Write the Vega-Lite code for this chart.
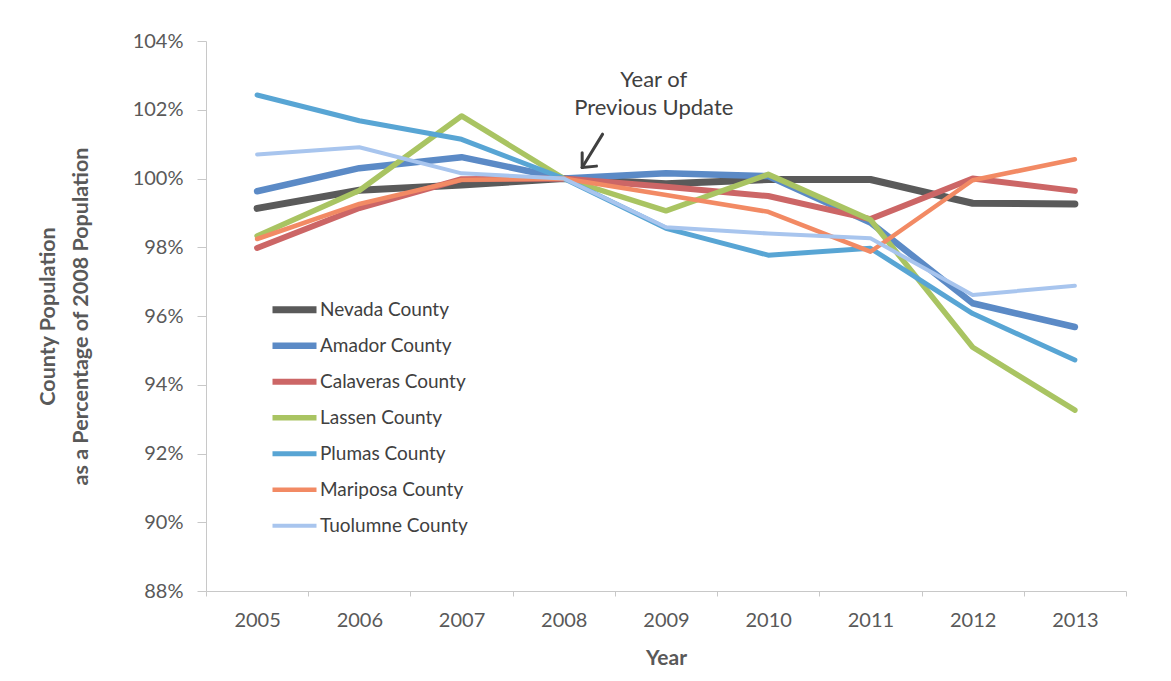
{
  "$schema": "https://vega.github.io/schema/vega-lite/v6.json",
  "autosize": {"type": "none"},
  "padding": {"left": 206, "top": 41, "right": 45, "bottom": 90},
  "width": 920,
  "height": 550,
  "background": "white",
  "config": {
    "view": {"stroke": null},
    "font": "Lato",
    "axis": {
      "labelFont": "Lato",
      "titleFont": "Lato",
      "labelColor": "#595959",
      "titleColor": "#595959",
      "domainColor": "#c8c8c8",
      "tickColor": "#c8c8c8",
      "grid": false
    }
  },
  "datasets": {
    "population": [
      {"county": "Nevada County", "year": "2005", "pct": 99.13},
      {"county": "Nevada County", "year": "2006", "pct": 99.66},
      {"county": "Nevada County", "year": "2007", "pct": 99.81},
      {"county": "Nevada County", "year": "2008", "pct": 100.0},
      {"county": "Nevada County", "year": "2009", "pct": 99.85},
      {"county": "Nevada County", "year": "2010", "pct": 99.97},
      {"county": "Nevada County", "year": "2011", "pct": 99.97},
      {"county": "Nevada County", "year": "2012", "pct": 99.28},
      {"county": "Nevada County", "year": "2013", "pct": 99.26},
      {"county": "Amador County", "year": "2005", "pct": 99.63},
      {"county": "Amador County", "year": "2006", "pct": 100.3},
      {"county": "Amador County", "year": "2007", "pct": 100.62},
      {"county": "Amador County", "year": "2008", "pct": 100.0},
      {"county": "Amador County", "year": "2009", "pct": 100.15},
      {"county": "Amador County", "year": "2010", "pct": 100.07},
      {"county": "Amador County", "year": "2011", "pct": 98.72},
      {"county": "Amador County", "year": "2012", "pct": 96.37},
      {"county": "Amador County", "year": "2013", "pct": 95.68},
      {"county": "Calaveras County", "year": "2005", "pct": 97.98},
      {"county": "Calaveras County", "year": "2006", "pct": 99.14},
      {"county": "Calaveras County", "year": "2007", "pct": 99.98},
      {"county": "Calaveras County", "year": "2008", "pct": 100.0},
      {"county": "Calaveras County", "year": "2009", "pct": 99.76},
      {"county": "Calaveras County", "year": "2010", "pct": 99.49},
      {"county": "Calaveras County", "year": "2011", "pct": 98.82},
      {"county": "Calaveras County", "year": "2012", "pct": 100.0},
      {"county": "Calaveras County", "year": "2013", "pct": 99.64},
      {"county": "Lassen County", "year": "2005", "pct": 98.33},
      {"county": "Lassen County", "year": "2006", "pct": 99.65},
      {"county": "Lassen County", "year": "2007", "pct": 101.82},
      {"county": "Lassen County", "year": "2008", "pct": 100.0},
      {"county": "Lassen County", "year": "2009", "pct": 99.06},
      {"county": "Lassen County", "year": "2010", "pct": 100.12},
      {"county": "Lassen County", "year": "2011", "pct": 98.8},
      {"county": "Lassen County", "year": "2012", "pct": 95.09},
      {"county": "Lassen County", "year": "2013", "pct": 93.26},
      {"county": "Plumas County", "year": "2005", "pct": 102.43},
      {"county": "Plumas County", "year": "2006", "pct": 101.68},
      {"county": "Plumas County", "year": "2007", "pct": 101.14},
      {"county": "Plumas County", "year": "2008", "pct": 100.0},
      {"county": "Plumas County", "year": "2009", "pct": 98.55},
      {"county": "Plumas County", "year": "2010", "pct": 97.77},
      {"county": "Plumas County", "year": "2011", "pct": 97.97},
      {"county": "Plumas County", "year": "2012", "pct": 96.07},
      {"county": "Plumas County", "year": "2013", "pct": 94.72},
      {"county": "Mariposa County", "year": "2005", "pct": 98.24},
      {"county": "Mariposa County", "year": "2006", "pct": 99.26},
      {"county": "Mariposa County", "year": "2007", "pct": 99.96},
      {"county": "Mariposa County", "year": "2008", "pct": 100.0},
      {"county": "Mariposa County", "year": "2009", "pct": 99.52},
      {"county": "Mariposa County", "year": "2010", "pct": 99.03},
      {"county": "Mariposa County", "year": "2011", "pct": 97.87},
      {"county": "Mariposa County", "year": "2012", "pct": 99.95},
      {"county": "Mariposa County", "year": "2013", "pct": 100.56},
      {"county": "Tuolumne County", "year": "2005", "pct": 100.7},
      {"county": "Tuolumne County", "year": "2006", "pct": 100.91},
      {"county": "Tuolumne County", "year": "2007", "pct": 100.15},
      {"county": "Tuolumne County", "year": "2008", "pct": 100.0},
      {"county": "Tuolumne County", "year": "2009", "pct": 98.58},
      {"county": "Tuolumne County", "year": "2010", "pct": 98.4},
      {"county": "Tuolumne County", "year": "2011", "pct": 98.26},
      {"county": "Tuolumne County", "year": "2012", "pct": 96.61},
      {"county": "Tuolumne County", "year": "2013", "pct": 96.88}
    ],
    "note": [
      {"line": "Year of", "xpos": 2008.88, "ypos": 102.66},
      {"line": "Previous Update", "xpos": 2008.88, "ypos": 101.85}
    ],
    "arrow": [
      {"stroke": "shaft", "xpos": 2008.38, "ypos": 101.29},
      {"stroke": "shaft", "xpos": 2008.18, "ypos": 100.32},
      {"stroke": "head-up", "xpos": 2008.18, "ypos": 100.32},
      {"stroke": "head-up", "xpos": 2008.18, "ypos": 100.75},
      {"stroke": "head-right", "xpos": 2008.18, "ypos": 100.32},
      {"stroke": "head-right", "xpos": 2008.32, "ypos": 100.36}
    ]
  },
  "layer": [
    {
      "data": {"name": "population"},
      "mark": {"type": "line", "strokeCap": "round", "strokeJoin": "round"},
      "encoding": {
        "x": {
          "field": "year",
          "type": "ordinal",
          "bandPosition": 0.5,
          "scale": {"type": "band", "paddingInner": 0, "paddingOuter": 0},
          "axis": {
            "title": "Year",
            "titleFontSize": 21,
            "titleFontWeight": "bold",
            "titlePadding": 17,
            "labelFontSize": 20,
            "labelAngle": 0,
            "labelPadding": 14,
            "tickSize": 5,
            "tickBand": "extent"
          }
        },
        "y": {
          "field": "pct",
          "type": "quantitative",
          "scale": {"domain": [88, 104], "nice": false, "zero": false},
          "axis": {
            "title": ["County Population", "as a Percentage of 2008 Population"],
            "titleFontSize": 21.5,
            "titleFontWeight": "bold",
            "titleLineHeight": 33,
            "titlePadding": 40,
            "values": [88, 90, 92, 94, 96, 98, 100, 102, 104],
            "labelExpr": "datum.value + '%'",
            "labelFontSize": 20,
            "labelPadding": 14,
            "tickSize": 9
          }
        },
        "color": {
          "field": "county",
          "type": "nominal",
          "scale": {
            "domain": ["Nevada County", "Amador County", "Calaveras County", "Lassen County", "Plumas County", "Mariposa County", "Tuolumne County"],
            "range": ["#5a5a5a", "#5b8ac6", "#cc6666", "#a9c462", "#58a5d4", "#f28a64", "#a8c5ee"]
          },
          "legend": {
            "title": null,
            "orient": "none",
            "legendX": 63,
            "legendY": 251,
            "symbolType": "stroke",
            "symbolSize": 1936,
            "clipHeight": 35.7,
            "rowPadding": 0,
            "labelFont": "Lato",
            "labelFontSize": 19,
            "labelColor": "#404040",
            "labelOffset": 0
          }
        },
        "strokeWidth": {
          "field": "county",
          "type": "nominal",
          "scale": {
            "domain": ["Nevada County", "Amador County", "Calaveras County", "Lassen County", "Plumas County", "Mariposa County", "Tuolumne County"],
            "range": [7, 4, 4, 4, 4, 4, 4]
          },
          "legend": {
            "title": null,
            "orient": "none",
            "legendX": 63,
            "legendY": 251,
            "symbolType": "stroke",
            "symbolSize": 1936,
            "clipHeight": 35.7,
            "rowPadding": 0,
            "labelFont": "Lato",
            "labelFontSize": 19,
            "labelColor": "#404040",
            "labelOffset": 0
          }
        }
      }
    },
    {
      "data": {"name": "note"},
      "mark": {"type": "text", "font": "Lato", "fontSize": 22, "color": "#404040", "align": "center", "baseline": "alphabetic"},
      "encoding": {
        "x": {"field": "xpos", "type": "quantitative", "scale": {"domain": [2004.5, 2013.5], "nice": false, "zero": false}, "axis": null},
        "y": {"field": "ypos", "type": "quantitative"},
        "text": {"field": "line"}
      }
    },
    {
      "data": {"name": "arrow"},
      "mark": {"type": "line", "color": "#404040", "strokeWidth": 3, "strokeCap": "round"},
      "encoding": {
        "x": {"field": "xpos", "type": "quantitative", "scale": {"domain": [2004.5, 2013.5], "nice": false, "zero": false}, "axis": null},
        "y": {"field": "ypos", "type": "quantitative"},
        "detail": {"field": "stroke"}
      }
    }
  ],
  "resolve": {"scale": {"x": "independent"}}
}
